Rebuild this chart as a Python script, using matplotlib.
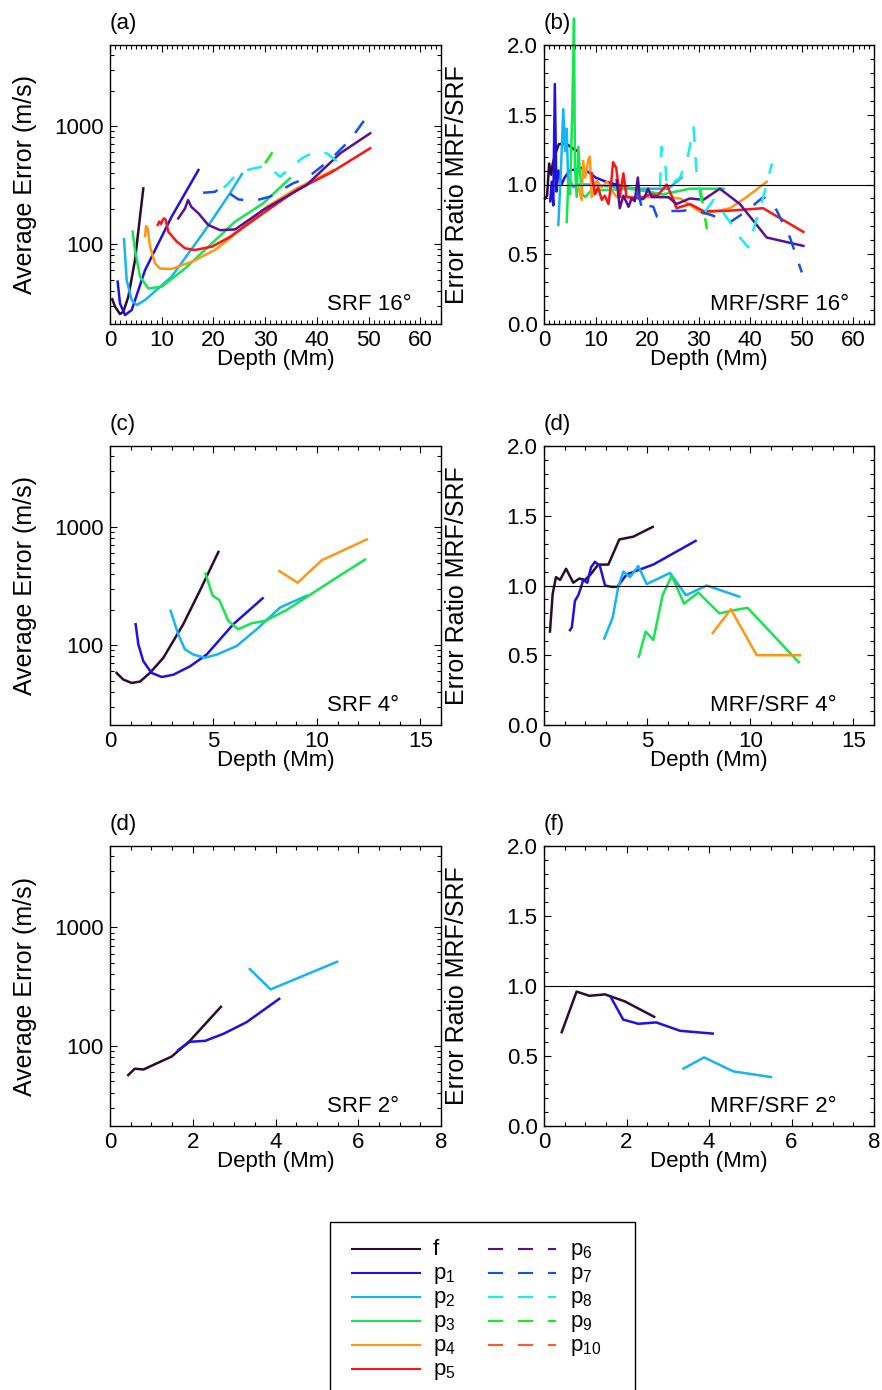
import matplotlib
matplotlib.use('Agg')
import matplotlib.pyplot as plt
from matplotlib.ticker import FixedLocator, MultipleLocator, LogLocator, NullFormatter, FuncFormatter, FormatStrFormatter
from matplotlib.lines import Line2D
from matplotlib.patches import Rectangle

plt.rcParams['font.family'] = ['Liberation Sans', 'DejaVu Sans']
plt.rcParams['mathtext.default'] = 'regular'
FS = 16
FS_YLAB = 18

# ---------------- data ----------------
modes = ['f', 'p1', 'p2', 'p3', 'p4', 'p5', 'p6', 'p7', 'p8', 'p9', 'p10']
mode_labels = ['f', 'p$_1$', 'p$_2$', 'p$_3$', 'p$_4$', 'p$_5$',
               'p$_6$', 'p$_7$', 'p$_8$', 'p$_9$', 'p$_{10}$']
mode_colors = ['#2d0a30', '#1e10e6', '#14b4f5', '#14e650', '#ff9614', '#ff1414',
               '#5a0f96', '#1450f0', '#14f0f0', '#14f014', '#ff5a28']
legend_dashed = [False] * 6 + [True] * 5

# (a) SRF 16 deg : average error (m/s) vs depth (Mm)
a_f_x = [0.44, 0.97, 1.93, 2.58, 3.54, 4.83, 5.8, 6.44]
a_f_y = [34, 29.5, 25.5, 26.7, 35.7, 73, 170, 296]
a_p1_x = [1.48, 1.93, 2.9, 4.2, 6.77, 11.9, 17.1]
a_p1_y = [48, 31.4, 25, 27.6, 60, 170, 424]
a_p2_x = [2.71, 3.22, 4.2, 5.16, 6.77, 11.9, 18.4, 23.2, 25.5]
a_p2_y = [110, 49.5, 33.5, 30.4, 33.5, 52.8, 131, 269, 392]
a_p3_x = [4.38, 4.83, 5.8, 7.41, 10.0, 14.5, 24.2, 29.6, 34.8]
a_p3_y = [127, 89, 53, 42, 43.5, 62, 155, 221, 361]
a_p4_x = [6.8, 6.96, 7.28, 7.74, 8.7, 9.67, 11.9, 15.8, 20.3, 23.2, 30.3, 36.1, 43.2]
a_p4_y = [117, 142, 136, 95, 68.6, 62, 61.4, 70.8, 89, 112, 207, 296, 424]
a_p5_x = [9.22, 9.53, 9.86, 10.19, 10.5, 10.77, 11.27, 12.9, 14.5, 16.4, 19.7, 23.2, 29.6, 36.1, 42.5, 50.3]
a_p5_y = [145, 155, 148, 160, 165, 160, 127, 105, 92, 89, 95, 115, 182, 287, 398, 648]
a_p6_x = [13.2, 14.5, 15.1, 15.7, 17.1, 19.0, 21.3, 24.2, 29.6, 38.0, 44.5, 50.3]
a_p6_y = [165, 200, 236, 207, 182, 145, 131, 133, 194, 316, 587, 867]
a_p7_x = [18.0, 20.3, 20.9, 21.6, 22.2, 24.8, 27.7, 30.9, 35.4, 38.0, 42.5, 46.4, 49.9]
a_p7_y = [272, 277, 290, 277, 286, 239, 231, 252, 327, 361, 515, 760, 1239]
a_p8_x = [22.0, 22.9, 24.5, 27.0, 30.3, 32.9, 33.8, 37.1, 39.3, 41.9, 44.0]
a_p8_y = [300, 327, 392, 430, 461, 372, 403, 532, 600, 587, 498]
a_p9_x = [30.0, 31.4]
a_p9_y = [483, 600]

# (b) MRF/SRF 16 deg : error ratio vs depth
b_f_x = [0.2, 0.6, 1.0, 1.4, 1.7, 2.2, 2.9, 4.4, 5.9, 6.5]
b_f_y = [0.90, 0.92, 1.15, 1.07, 1.15, 1.22, 1.29, 1.29, 1.25, 1.24]
b_p1_x = [1.2, 1.5, 1.8, 2.1, 2.4, 2.8, 3.4, 4.0, 5.0, 7.5, 10.0, 12.0, 14.0, 17.0]
b_p1_y = [0.88, 1.02, 0.85, 1.72, 0.95, 1.10, 1.00, 1.05, 1.10, 1.12, 1.05, 1.02, 1.00, 0.97]
b_p2_x = [2.78, 3.3, 3.74, 4.07, 4.4, 4.72, 5.04, 5.69, 6.66, 8.6, 14.4, 18.9, 24.1, 26.7]
b_p2_y = [0.71, 1.12, 1.54, 1.24, 1.40, 0.98, 1.03, 0.98, 1.00, 1.00, 0.98, 0.97, 0.97, 1.05]
b_p3_x = [4.4, 4.72, 5.04, 5.5, 5.82, 6.0, 6.34, 6.66, 6.98, 7.43, 7.95, 9.25, 12.0, 16.7, 20.0, 23.1, 28.3, 30.3, 34.8]
b_p3_y = [0.73, 1.03, 0.93, 1.55, 2.19, 1.12, 0.91, 1.27, 1.08, 0.93, 0.91, 0.96, 0.96, 0.97, 0.95, 0.93, 0.97, 0.97, 0.97]
b_p4_x = [6.66, 7.3, 7.6, 8.0, 8.6, 8.9, 9.25, 10.2, 11.2, 12.2, 13.1, 14.1, 17.6, 23.1, 26.4, 30.9, 33.5, 36.1, 39.3, 43.2]
b_p4_y = [0.98, 0.89, 1.17, 1.05, 1.18, 1.20, 0.91, 1.03, 0.98, 1.02, 0.96, 0.91, 0.91, 0.91, 0.90, 0.79, 0.81, 0.83, 0.91, 1.02]
b_p5_x = [9.25, 9.9, 10.5, 11.2, 11.8, 12.5, 13.0, 13.4, 14.0, 14.7, 15.4, 16.0, 18.6, 20.6, 22.0, 23.8, 25.1, 25.7, 28.3, 30.9, 35.0, 42.5, 50.3]
b_p5_y = [1.08, 0.93, 0.98, 0.89, 0.92, 0.86, 1.00, 1.16, 1.12, 0.91, 1.08, 0.91, 0.90, 0.93, 0.92, 1.00, 0.89, 0.83, 0.86, 0.81, 0.81, 0.83, 0.66]
b_p6_x = [14.1, 14.7, 15.4, 16.4, 17.0, 17.6, 18.2, 18.6, 19.4, 20.2, 20.9, 22.2, 24.1, 25.7, 28.3, 30.9, 34.1, 38.0, 43.2, 50.3]
b_p6_y = [1.03, 0.83, 0.92, 0.84, 0.90, 0.88, 1.05, 0.89, 0.90, 0.97, 0.91, 0.91, 0.91, 0.86, 0.90, 0.89, 0.97, 0.86, 0.62, 0.56]
b_p7_x = [18.0, 18.6, 19.1, 20.0, 21.2, 21.9, 24.4, 26.4, 29.0, 32.5, 36.1, 39.3, 42.5, 44.5, 47.7, 50.0]
b_p7_y = [0.95, 0.89, 0.81, 0.85, 0.84, 0.77, 0.81, 0.81, 0.82, 0.78, 0.73, 0.81, 0.91, 0.86, 0.62, 0.37]
b_p8_x = [22.5, 22.8, 23.5, 23.8, 26.4, 28.0, 29.0, 29.6, 30.9, 32.9, 36.1, 38.0, 39.6, 42.5, 44.2]
b_p8_y = [0.98, 1.27, 1.17, 0.98, 1.05, 1.22, 1.41, 1.08, 0.79, 0.89, 0.73, 0.62, 0.55, 0.91, 1.15]
b_p9_x = [30.3, 31.6]
b_p9_y = [0.97, 0.68]

# (c) SRF 4 deg
c_f_x = [0.32, 0.64, 1.05, 1.45, 1.93, 2.58, 3.54, 4.35, 5.24]
c_f_y = [58, 51, 47.7, 49, 58, 78, 150, 290, 615]
c_p1_x = [1.24, 1.37, 1.61, 2.01, 2.5, 3.06, 3.87, 4.67, 5.96, 7.38]
c_p1_y = [150, 101, 73, 58, 53.6, 56, 66, 83, 150, 249]
c_p2_x = [2.93, 3.3, 3.62, 4.03, 4.59, 5.16, 6.12, 7.09, 8.22, 9.51]
c_p2_y = [195, 123, 92, 83, 78, 83, 98, 136, 208, 262]
c_p3_x = [4.62, 4.96, 5.28, 5.72, 6.2, 6.85, 7.49, 8.54, 9.99, 11.12, 12.33]
c_p3_y = [402, 262, 241, 160, 136, 153, 160, 198, 290, 389, 530]
c_p4_x = [8.18, 9.07, 10.23, 12.41]
c_p4_y = [424, 337, 522, 785]

# (d) MRF/SRF 4 deg
d_f_x = [0.29, 0.42, 0.58, 0.78, 1.07, 1.42, 1.71, 1.99, 2.26, 2.63, 3.12, 3.65, 4.33, 5.27]
d_f_y = [0.67, 0.94, 1.06, 1.04, 1.12, 1.02, 1.05, 1.04, 1.08, 1.15, 1.15, 1.33, 1.35, 1.42]
d_p1_x = [1.26, 1.35, 1.5, 1.66, 1.78, 1.9, 2.1, 2.28, 2.47, 2.71, 2.96, 3.28, 3.55, 4.01, 5.3, 7.35]
d_p1_y = [0.68, 0.70, 0.89, 0.93, 0.98, 1.04, 1.02, 1.13, 1.17, 1.14, 1.00, 0.99, 0.99, 1.08, 1.15, 1.32]
d_p2_x = [2.92, 3.33, 3.6, 3.85, 4.17, 4.57, 4.98, 5.54, 6.11, 6.88, 7.89, 9.47]
d_p2_y = [0.62, 0.77, 0.99, 1.10, 1.06, 1.14, 1.01, 1.05, 1.09, 0.93, 1.00, 0.92]
d_p3_x = [4.6, 4.93, 5.3, 5.75, 6.19, 6.79, 7.48, 8.5, 9.1, 9.87, 12.35]
d_p3_y = [0.49, 0.67, 0.61, 0.93, 1.07, 0.87, 0.95, 0.80, 0.82, 0.84, 0.45]
d_p4_x = [8.18, 9.06, 10.31, 12.41]
d_p4_y = [0.66, 0.83, 0.50, 0.50]

# (e) SRF 2 deg
e_f_x = [0.44, 0.6, 0.81, 1.13, 1.49, 1.93, 2.68]
e_f_y = [56.5, 64, 63, 71, 81, 110, 213]
e_p1_x = [1.65, 1.93, 2.3, 2.74, 3.3, 4.09]
e_p1_y = [92, 108, 110, 126, 158, 249]
e_p2_x = [3.38, 3.88, 5.49]
e_p2_y = [444, 299, 512]

# (f) MRF/SRF 2 deg
f_f_x = [0.43, 0.79, 1.1, 1.48, 1.96, 2.67]
f_f_y = [0.67, 0.96, 0.93, 0.94, 0.89, 0.78]
f_p1_x = [1.62, 1.92, 2.29, 2.72, 3.3, 4.09]
f_p1_y = [0.92, 0.76, 0.73, 0.74, 0.68, 0.66]
f_p2_x = [3.38, 3.88, 4.59, 5.5]
f_p2_y = [0.41, 0.49, 0.39, 0.35]

# curves per panel: (mode, x, y, dashed)
panel_a = [('f', a_f_x, a_f_y, False), ('p1', a_p1_x, a_p1_y, False), ('p2', a_p2_x, a_p2_y, False),
           ('p3', a_p3_x, a_p3_y, False), ('p4', a_p4_x, a_p4_y, False), ('p5', a_p5_x, a_p5_y, False),
           ('p6', a_p6_x, a_p6_y, False), ('p7', a_p7_x, a_p7_y, True), ('p8', a_p8_x, a_p8_y, True),
           ('p9', a_p9_x, a_p9_y, True)]
panel_b = [('f', b_f_x, b_f_y, False), ('p1', b_p1_x, b_p1_y, False), ('p2', b_p2_x, b_p2_y, False),
           ('p3', b_p3_x, b_p3_y, False), ('p4', b_p4_x, b_p4_y, False), ('p5', b_p5_x, b_p5_y, False),
           ('p6', b_p6_x, b_p6_y, False), ('p7', b_p7_x, b_p7_y, True), ('p8', b_p8_x, b_p8_y, True),
           ('p9', b_p9_x, b_p9_y, True)]
panel_c = [('f', c_f_x, c_f_y, False), ('p1', c_p1_x, c_p1_y, False), ('p2', c_p2_x, c_p2_y, False),
           ('p3', c_p3_x, c_p3_y, False), ('p4', c_p4_x, c_p4_y, False)]
panel_d = [('f', d_f_x, d_f_y, False), ('p1', d_p1_x, d_p1_y, False), ('p2', d_p2_x, d_p2_y, False),
           ('p3', d_p3_x, d_p3_y, False), ('p4', d_p4_x, d_p4_y, False)]
panel_e = [('f', e_f_x, e_f_y, False), ('p1', e_p1_x, e_p1_y, False), ('p2', e_p2_x, e_p2_y, False)]
panel_f = [('f', f_f_x, f_f_y, False), ('p1', f_p1_x, f_p1_y, False), ('p2', f_p2_x, f_p2_y, False)]

color_of = dict(zip(modes, mode_colors))

# ---------------- figure ----------------
W, H = 882, 1390
fig = plt.figure(figsize=(W / 100, H / 100), dpi=100)


def rect(l, t, r, b):
    return [l / W, 1 - b / H, (r - l) / W, (b - t) / H]


cols = [(110, 441), (544, 874)]
rows = [(45, 324), (446, 725), (846, 1126)]

specs = [
    (panel_a, 'log', 64, 10, 1, '(a)', 'SRF 16\u00b0'),
    (panel_b, 'ratio', 64, 10, 1, '(b)', 'MRF/SRF 16\u00b0'),
    (panel_c, 'log', 16, 5, 1, '(c)', 'SRF 4\u00b0'),
    (panel_d, 'ratio', 16, 5, 1, '(d)', 'MRF/SRF 4\u00b0'),
    (panel_e, 'log', 8, 2, 0.5, '(d)', 'SRF 2\u00b0'),
    (panel_f, 'ratio', 8, 2, 0.5, '(f)', 'MRF/SRF 2\u00b0'),
]

for i, (curves, kind, xmax, xmaj, xmin_, plabel, note) in enumerate(specs):
    r, c = divmod(i, 2)
    l, rr = cols[c]
    t, b = rows[r]
    ax = fig.add_axes(rect(l, t, rr, b))
    for m, xs, ys, dashed in curves:
        ln, = ax.plot(xs, ys, color=color_of[m], lw=1.8, clip_on=False)
        if dashed:
            ln.set_dashes((6, 6))
    ax.set_xlim(0, xmax)
    ax.xaxis.set_major_locator(MultipleLocator(xmaj))
    ax.xaxis.set_minor_locator(MultipleLocator(xmin_))
    ax.xaxis.set_major_formatter(FuncFormatter(lambda v, p: '%d' % round(v)))
    if kind == 'log':
        ax.set_yscale('log')
        ax.set_ylim(21, 4860)
        ax.yaxis.set_major_locator(FixedLocator([100, 1000]))
        ax.yaxis.set_major_formatter(FuncFormatter(lambda v, p: '%d' % round(v)))
        ax.yaxis.set_minor_locator(LogLocator(base=10, subs=range(2, 10)))
        ax.yaxis.set_minor_formatter(NullFormatter())
        ax.set_ylabel('Average Error (m/s)', fontsize=FS_YLAB)
        ax.yaxis.set_label_coords(-0.22, 0.5)
        ax.text(0.655, 0.05, note, transform=ax.transAxes, ha='left', va='baseline', fontsize=FS)
    else:
        ax.set_ylim(0, 2)
        ax.yaxis.set_major_locator(MultipleLocator(0.5))
        ax.yaxis.set_minor_locator(MultipleLocator(0.1))
        ax.yaxis.set_major_formatter(FormatStrFormatter('%.1f'))
        ax.axhline(1.0, color='black', lw=0.8)
        ax.set_ylabel('Error Ratio MRF/SRF', fontsize=FS_YLAB)
        ax.yaxis.set_label_coords(-0.228, 0.5)
        ax.text(0.503, 0.05, note, transform=ax.transAxes, ha='left', va='baseline', fontsize=FS)
    ax.set_xlabel('Depth (Mm)', fontsize=FS)
    ax.xaxis.set_label_coords(0.5, -0.088)
    ax.tick_params(which='both', direction='in', top=True, right=True, labelsize=FS, width=0.8)
    ax.tick_params(which='major', length=4.8)
    ax.tick_params(which='minor', length=2.6)
    ax.tick_params(axis='x', pad=4.5)
    ax.tick_params(axis='y', pad=4.5)
    for s in ax.spines.values():
        s.set_linewidth(1.0)
    ax.text(0.0, 1.057, plabel, transform=ax.transAxes, ha='left', va='baseline', fontsize=FS)

# ---------------- legend (drawn in figure pixels) ----------------
def fx(px):
    return px / W


def fy(py):
    return 1 - py / H


fig.add_artist(Rectangle((fx(330), fy(1405)), (635 - 330) / W, (1405 - 1222) / H,
                         transform=fig.transFigure, fill=False, ec='black', lw=1.0))
for k, (lab, col, dashed) in enumerate(zip(mode_labels, mode_colors, legend_dashed)):
    if not dashed:
        x0, x1, xt, yy = 352, 420, 433, 1249 + 24 * k
    else:
        x0, x1, xt, yy = 488, 556, 570, 1249 + 24 * (k - 6)
    ln = Line2D([fx(x0), fx(x1)], [fy(yy), fy(yy)], transform=fig.transFigure,
                color=col, lw=1.5)
    if dashed:
        ln.set_dashes((7.2, 7.2))
    fig.add_artist(ln)
    fig.text(fx(xt), fy(yy + 6), lab, ha='left', va='baseline', fontsize=FS)

fig.savefig('out.png', dpi=100)
